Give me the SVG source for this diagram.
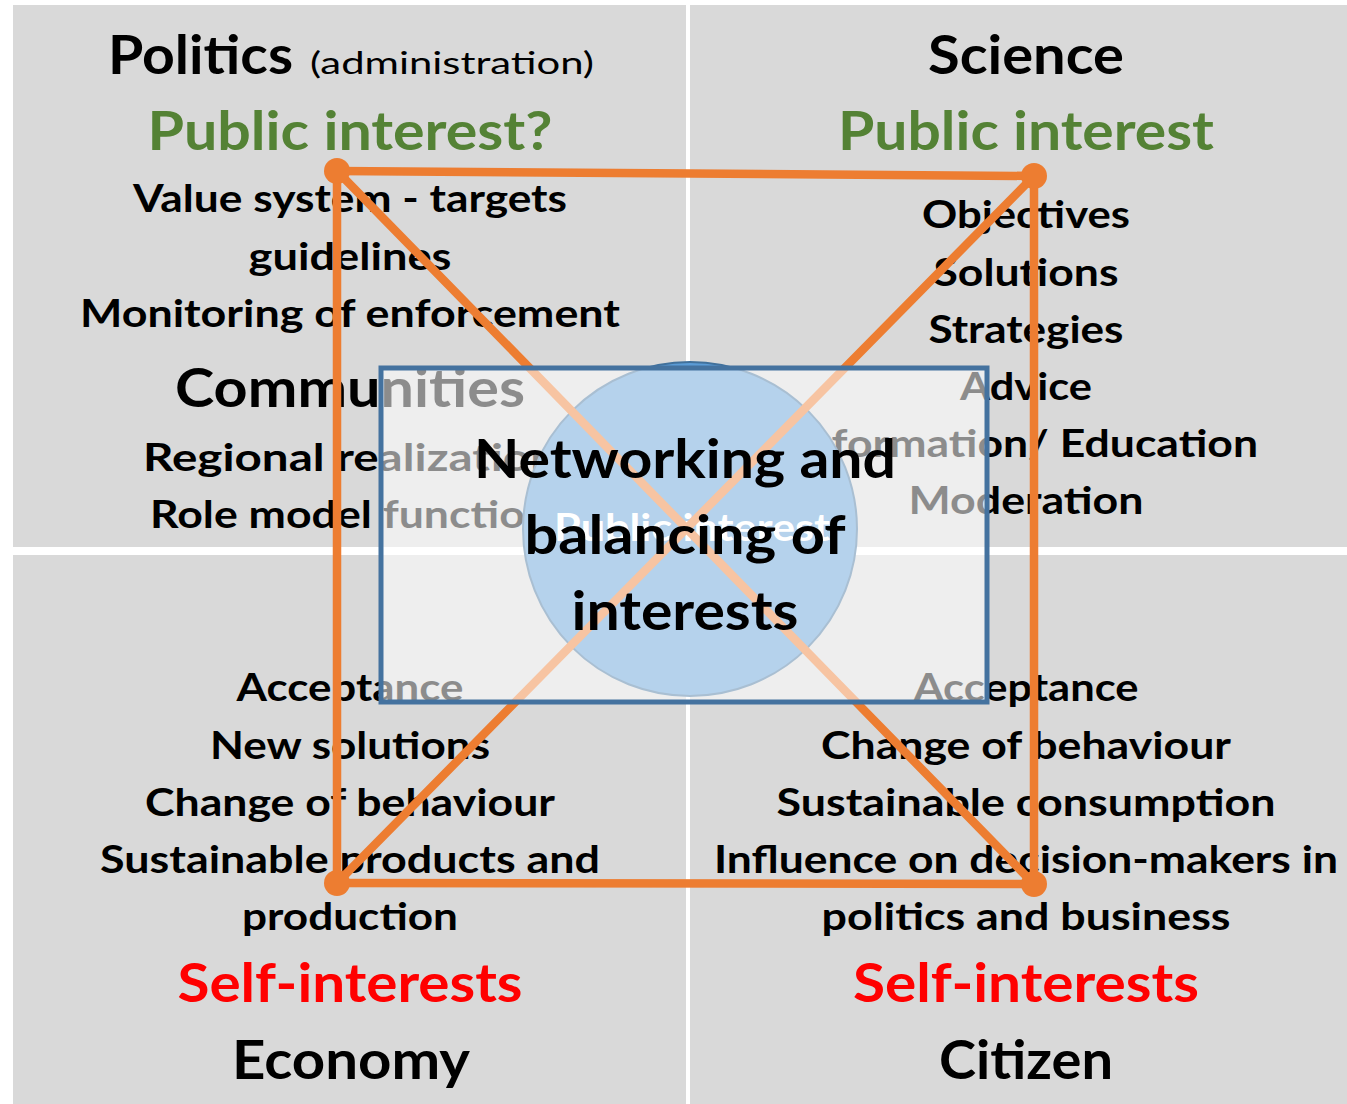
<svg xmlns="http://www.w3.org/2000/svg" width="1347" height="1104" viewBox="0 0 1347 1104">
<style>
text{font-family:Lato,"Open Sans","Liberation Sans",sans-serif;font-weight:700;text-anchor:middle}
.q{fill:#d9d9d9}
.big{font-size:54px}
.med{font-size:38px}
.k{fill:#000}
.g{fill:#548235}
.r{fill:#ff0000}
.ln{stroke:#ed7d31;stroke-width:8.5;fill:none;stroke-linecap:round}
.dot{fill:#ed7d31}
</style>
<rect width="1347" height="1104" fill="#fff"/>
<g id="politics">
<rect class="q" x="13" y="5" width="673" height="542"/>
<text class="big" x="108" y="74" style="text-anchor:start" textLength="185" lengthAdjust="spacingAndGlyphs">Politics</text>
<text x="310" y="74" style="text-anchor:start;font-size:31px;font-weight:400" textLength="284" lengthAdjust="spacingAndGlyphs">(administration)</text>
<text class="big g" x="350" y="150" textLength="405" lengthAdjust="spacingAndGlyphs">Public interest?</text>
<text class="med" x="350" y="212" textLength="434" lengthAdjust="spacingAndGlyphs">Value system - targets</text>
<text class="med" x="350" y="270" textLength="203" lengthAdjust="spacingAndGlyphs">guidelines</text>
<text class="med" x="350" y="327" textLength="540" lengthAdjust="spacingAndGlyphs">Monitoring of enforcement</text>
<text class="big" x="350" y="407" textLength="350" lengthAdjust="spacingAndGlyphs">Communities</text>
<text class="med" x="350" y="471" textLength="414" lengthAdjust="spacingAndGlyphs">Regional realization</text>
<text class="med" x="350" y="528" textLength="400" lengthAdjust="spacingAndGlyphs">Role model function</text>
</g>
<g id="science">
<rect class="q" x="690" y="5" width="657" height="542"/>
<text class="big" x="1026" y="74" textLength="196" lengthAdjust="spacingAndGlyphs">Science</text>
<text class="big g" x="1026" y="150" textLength="376" lengthAdjust="spacingAndGlyphs">Public interest</text>
<text class="med" x="1026" y="228" textLength="208" lengthAdjust="spacingAndGlyphs">Objectives</text>
<text class="med" x="1026" y="286" textLength="185" lengthAdjust="spacingAndGlyphs">Solutions</text>
<text class="med" x="1026" y="343" textLength="195" lengthAdjust="spacingAndGlyphs">Strategies</text>
<text class="med" x="1026" y="400" textLength="132" lengthAdjust="spacingAndGlyphs">Advice</text>
<text class="med" x="1026" y="457" textLength="464" lengthAdjust="spacingAndGlyphs">Information/ Education</text>
<text class="med" x="1026" y="514" textLength="235" lengthAdjust="spacingAndGlyphs">Moderation</text>
</g>
<g id="economy">
<rect class="q" x="13" y="555" width="673" height="549"/>
<text class="med" x="350" y="701" textLength="227" lengthAdjust="spacingAndGlyphs">Acceptance</text>
<text class="med" x="350" y="759" textLength="280" lengthAdjust="spacingAndGlyphs">New solutions</text>
<text class="med" x="350" y="816" textLength="410" lengthAdjust="spacingAndGlyphs">Change of behaviour</text>
<text class="med" x="350" y="873" textLength="500" lengthAdjust="spacingAndGlyphs">Sustainable products and</text>
<text class="med" x="350" y="930" textLength="216" lengthAdjust="spacingAndGlyphs">production</text>
<text class="big r" x="350" y="1002" textLength="345" lengthAdjust="spacingAndGlyphs">Self-interests</text>
<text class="big" x="351" y="1079" textLength="238" lengthAdjust="spacingAndGlyphs">Economy</text>
</g>
<g id="citizen">
<rect class="q" x="690" y="555" width="657" height="549"/>
<text class="med" x="1026" y="701" textLength="225" lengthAdjust="spacingAndGlyphs">Acceptance</text>
<text class="med" x="1026" y="759" textLength="410" lengthAdjust="spacingAndGlyphs">Change of behaviour</text>
<text class="med" x="1026" y="816" textLength="499" lengthAdjust="spacingAndGlyphs">Sustainable consumption</text>
<text class="med" x="1026" y="873" textLength="624" lengthAdjust="spacingAndGlyphs">Influence on decision-makers in</text>
<text class="med" x="1026" y="930" textLength="409" lengthAdjust="spacingAndGlyphs">politics and business</text>
<text class="big r" x="1026" y="1002" textLength="346" lengthAdjust="spacingAndGlyphs">Self-interests</text>
<text class="big" x="1026" y="1079" textLength="174" lengthAdjust="spacingAndGlyphs">Citizen</text>
</g>
<g id="public-interest">
<circle cx="690" cy="529" r="167" fill="#5b9bd5" stroke="#41719c" stroke-width="2"/>
<text x="692" y="541" style="font-size:38px;fill:#fff" textLength="276" lengthAdjust="spacingAndGlyphs">Public interest</text>
</g>
<g id="connectors">
<line class="ln" x1="337" y1="171" x2="1034" y2="176"/>
<line class="ln" x1="1034" y1="176" x2="1034" y2="884"/>
<line class="ln" x1="1034" y1="884" x2="337" y2="883"/>
<line class="ln" x1="337" y1="883" x2="337" y2="171"/>
<line class="ln" x1="337" y1="171" x2="1034" y2="884"/>
<line class="ln" x1="1034" y1="176" x2="337" y2="883"/>
<circle class="dot" cx="337" cy="171" r="13"/>
<circle class="dot" cx="1034" cy="176" r="13"/>
<circle class="dot" cx="1034" cy="884" r="13"/>
<circle class="dot" cx="337" cy="883" r="13"/>
</g>
<g id="networking">
<rect x="381" y="368" width="606" height="334" fill="#fff" fill-opacity="0.55" stroke="#44729f" stroke-width="5"/>
<text class="big" x="685" y="478" textLength="422" lengthAdjust="spacingAndGlyphs">Networking and</text>
<text class="big" x="685" y="554" textLength="321" lengthAdjust="spacingAndGlyphs">balancing of</text>
<text class="big" x="685" y="630" textLength="227" lengthAdjust="spacingAndGlyphs">interests</text>
</g>
</svg>
